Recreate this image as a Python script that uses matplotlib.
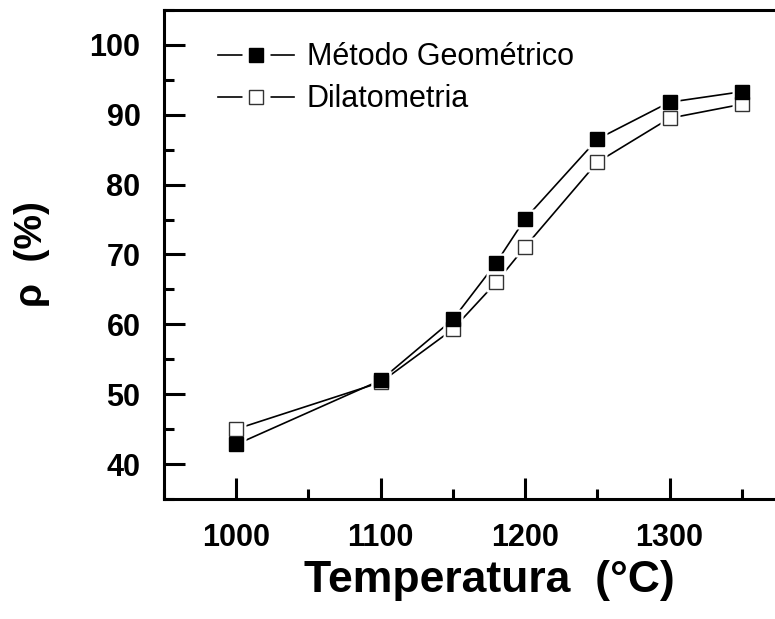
import matplotlib
matplotlib.use("Agg")
import matplotlib.pyplot as plt
from matplotlib.lines import Line2D
from matplotlib.legend_handler import HandlerBase
from matplotlib.ticker import MultipleLocator

plt.rcParams['font.family'] = ['Liberation Sans', 'DejaVu Sans']

# sintering temperature (°C) and relative density (%)
temperatura = [1000, 1100, 1150, 1180, 1200, 1250, 1300, 1350]
geometrico = [42.8, 52.0, 60.7, 68.8, 75.1, 86.5, 91.8, 93.3]
dilatometria = [45.0, 51.7, 59.3, 66.0, 71.1, 83.2, 89.5, 91.5]

label_geo = "Método Geométrico"
label_dil = "Dilatometria"

ms = 9.5
halo = ms + 5


class GapHandler(HandlerBase):
    """line - marker - line, with a white gap round the marker"""
    def __init__(self, fc, ec):
        super().__init__()
        self.fc, self.ec = fc, ec

    def create_artists(self, legend, orig_handle, xdescent, ydescent,
                       width, height, fontsize, trans):
        y = height / 2 - ydescent
        x0, x1 = -xdescent, width - xdescent
        xm = (x0 + x1) / 2
        line = Line2D([x0, x1], [y, y], color='black', lw=1.2)
        gap = Line2D([xm], [y], ls='none', marker='s', ms=ms + 11, mfc='white', mec='none')
        mk = Line2D([xm], [y], ls='none', marker='s', ms=ms, mfc=self.fc, mec=self.ec, mew=1.0)
        for a in (line, gap, mk):
            a.set_transform(trans)
        return [line, gap, mk]


fig = plt.figure(figsize=(7.75, 6.19), dpi=100)
# axes runs past the right edge like the cropped original
ax = fig.add_axes([0.2116, 0.1939, 0.8387, 0.79])

for y in (geometrico, dilatometria):
    ax.plot(temperatura, y, color='black', lw=1.2, zorder=2)
for y in (geometrico, dilatometria):
    ax.plot(temperatura, y, ls='none', marker='s', ms=halo, mfc='white', mec='none', zorder=3)
l_dil, = ax.plot(temperatura, dilatometria, ls='none', marker='s', ms=ms, mfc='white',
                 mec='#333333', mew=1.0, zorder=4)
l_geo, = ax.plot(temperatura, geometrico, ls='none', marker='s', ms=ms, mfc='black',
                 mec='black', mew=1.0, zorder=5)

ax.set_xlim(950, 1400)
ax.set_ylim(35, 105)
ax.xaxis.set_minor_locator(MultipleLocator(50))
ax.yaxis.set_minor_locator(MultipleLocator(5))
ax.set_xticks([1000, 1100, 1200, 1300])
ax.set_yticks([40, 50, 60, 70, 80, 90, 100])

for s in ax.spines.values():
    s.set_linewidth(2.2)
ax.tick_params(which='both', direction='in', width=2.2, top=False, right=False)
ax.tick_params(which='major', length=15, labelsize=22, pad=17)
ax.tick_params(which='minor', length=7)
for t in ax.get_xticklabels() + ax.get_yticklabels():
    t.set_fontweight('bold')

ax.set_xlabel("Temperatura  (°C)", fontsize=32, fontweight='bold', labelpad=5)
ax.set_ylabel("ρ  (%)", fontsize=28, fontweight='bold', labelpad=28)

ax.legend([l_geo, l_dil], [label_geo, label_dil],
          handler_map={l_geo: GapHandler('black', 'black'),
                       l_dil: GapHandler('white', '#333333')},
          loc='upper left', bbox_to_anchor=(0.083, 0.934), frameon=False,
          fontsize=22, handlelength=2.5, handletextpad=0.4, labelspacing=0.4,
          borderpad=0, borderaxespad=0)

fig.savefig("out.png", dpi=100)
